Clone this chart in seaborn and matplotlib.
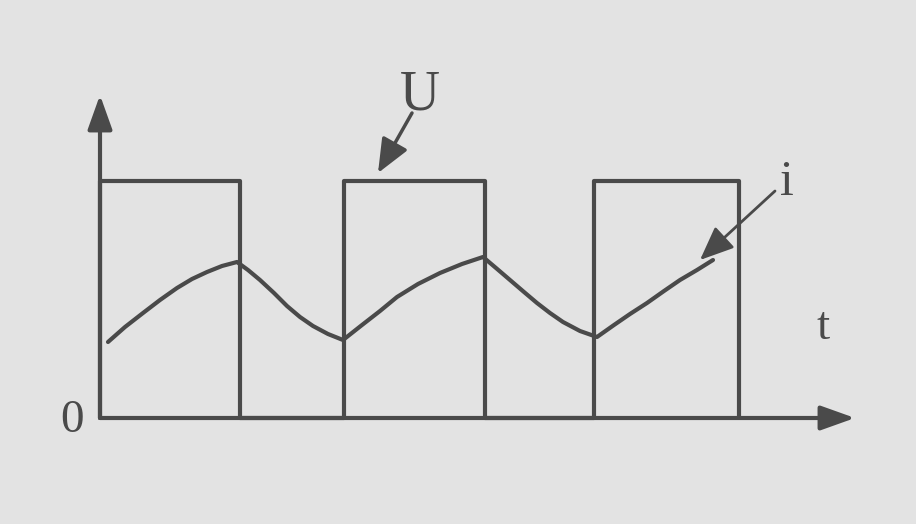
import numpy as np
import pandas as pd
import matplotlib.pyplot as plt
import seaborn as sns

# Square wave U: pulse start / end times, high level
pulse_on = [0.0, 2.44, 4.94]
pulse_off = [1.40, 3.85, 6.39]
u_high = 2.37

t_i = [0.08, 0.25, 0.43, 0.60, 0.77, 0.92, 1.07, 1.22, 1.37,
       1.48, 1.60, 1.74, 1.87, 2.00, 2.13, 2.28, 2.43,
       2.62, 2.80, 2.97, 3.18, 3.40, 3.62, 3.83,
       3.96, 4.10, 4.24, 4.37, 4.50, 4.63, 4.80, 4.97,
       5.14, 5.30, 5.47, 5.64, 5.80, 5.97, 6.13]
i_vals = [0.76, 0.91, 1.05, 1.18, 1.30, 1.39, 1.46, 1.52, 1.56,
          1.48, 1.38, 1.25, 1.12, 1.01, 0.92, 0.84, 0.78,
          0.93, 1.07, 1.21, 1.34, 1.45, 1.54, 1.61,
          1.50, 1.38, 1.26, 1.15, 1.05, 0.96, 0.87, 0.81,
          0.93, 1.04, 1.15, 1.27, 1.38, 1.48, 1.58]

# build the U outline from the pulse edges
u_t, u_v = [], []
for on, off in zip(pulse_on, pulse_off):
    u_t += [on, on, off, off]
    u_v += [0, u_high, u_high, 0]
df_u = pd.DataFrame({"t": u_t, "U": u_v})
df_i = pd.DataFrame({"t": t_i, "i": i_vals})

sns.set_style("white")
plt.rcParams["font.family"] = ["Liberation Serif", "DejaVu Serif"]

ink = "#4a4a4a"
bg = "#e3e3e3"

fig = plt.figure(figsize=(9.16, 5.24), dpi=100)
fig.patch.set_facecolor(bg)
ax = fig.add_axes([0, 0, 1, 1])
ax.set_facecolor(bg)

sns.lineplot(data=df_u, x="t", y="U", sort=False, estimator=None,
             color=ink, lw=3, ax=ax)
sns.lineplot(data=df_i, x="t", y="i", sort=False, estimator=None,
             color=ink, lw=3, ax=ax)

# axes with arrow heads
arrow = dict(arrowstyle="-|>,head_length=1.4,head_width=0.5", color=ink, lw=3,
             shrinkA=0, shrinkB=0, mutation_scale=15)
ax.annotate("", xy=(7.55, 0.0), xytext=(0.0, 0.0), arrowprops=arrow)
ax.annotate("", xy=(0.0, 3.23), xytext=(0.0, 0.0), arrowprops=arrow)

# labels
ax.text(-0.28, -0.03, "0", fontsize=34, color=ink, ha="center", va="center")
ax.text(7.23, 0.90, "t", fontsize=34, color=ink, ha="center", va="center")
ax.text(3.20, 3.22, "U", fontsize=40, color=ink, ha="center", va="center")
ax.text(6.87, 2.35, "i", fontsize=36, color=ink, ha="center", va="center")

small = dict(arrowstyle="-|>,head_length=1.3,head_width=0.55", color=ink,
             lw=2.5, shrinkA=0, shrinkB=0, mutation_scale=16)
ax.annotate("", xy=(2.78, 2.45), xytext=(3.12, 3.05), arrowprops=small)
ax.annotate("", xy=(6.00, 1.58), xytext=(6.75, 2.27),
            arrowprops=dict(small, lw=2.0))

ax.set_xlim(-1.0, 8.16)
ax.set_ylim(-1.06, 4.18)
ax.set_xlabel("")
ax.set_ylabel("")
ax.set_xticks([])
ax.set_yticks([])
for s in ax.spines.values():
    s.set_visible(False)

fig.savefig("out.png", dpi=100, facecolor=bg)
